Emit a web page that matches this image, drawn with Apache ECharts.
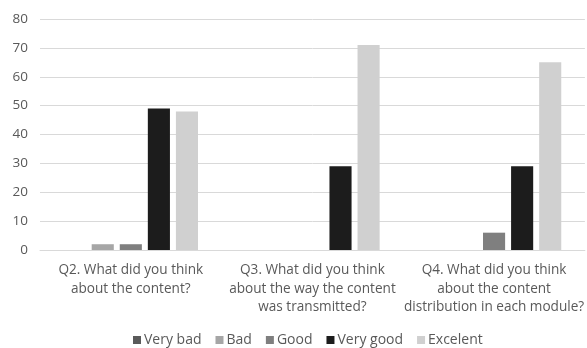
<!DOCTYPE html>
<html>
<head>
<meta charset="utf-8">
<script src="https://cdn.jsdelivr.net/npm/echarts@6/dist/echarts.min.js"></script>
<style>
html,body{margin:0;padding:0;background:#fff;}
#chart{width:587px;height:348px;}
</style>
</head>
<body>
<div id="chart"></div>
<script>
// Survey questions on the x axis
const categories = [
  'Q2. What did you think\nabout the content?',
  'Q3. What did you think\nabout the way the content\nwas transmitted?',
  'Q4. What did you think\nabout the content\ndistribution in each module?'
];
// Answer counts per rating
const veryBad  = [0, 0, 0];
const bad      = [2, 0, 0];
const good     = [2, 0, 6];
const veryGood = [49, 29, 29];
const excelent = [48, 71, 65];
const yTicks = [0, 10, 20, 30, 40, 50, 60, 70, 80];

const font = 'Open Sans';
const textColor = '#595959';

const seriesDefs = [
  { name: 'Very bad',  data: veryBad,  color: '#5a5a5a' },
  { name: 'Bad',       data: bad,      color: '#a6a6a6' },
  { name: 'Good',      data: good,     color: '#7f7f7f' },
  { name: 'Very good', data: veryGood, color: '#1c1c1c' },
  { name: 'Excelent',  data: excelent, color: '#d0d0d0' }
];

const chart = echarts.init(document.getElementById('chart'), null, { renderer: 'canvas' });
chart.setOption({
  animation: false,
  backgroundColor: '#ffffff',
  textStyle: { fontFamily: font },
  grid: { left: 40, right: 1, top: 19, bottom: 98, containLabel: false },
  legend: {
    bottom: 1,
    left: 133,
    padding: 0,
    itemWidth: 8,
    itemHeight: 8,
    itemGap: 14,
    icon: 'rect',
    textStyle: { color: textColor, fontSize: 14, fontFamily: font, padding: [0, 0, 0, -2] },
    data: seriesDefs.map(s => s.name)
  },
  xAxis: {
    type: 'category',
    data: categories,
    axisLine: { show: true, lineStyle: { color: '#d9d9d9', width: 1 } },
    axisTick: { show: false },
    axisLabel: { color: textColor, fontSize: 13.6, lineHeight: 18.5, margin: 11, interval: 0 }
  },
  yAxis: {
    type: 'value',
    min: yTicks[0],
    max: yTicks[yTicks.length - 1],
    interval: yTicks[1] - yTicks[0],
    axisLine: { show: false },
    axisTick: { show: false },
    axisLabel: { color: textColor, fontSize: 13.5, margin: 12 },
    splitLine: { lineStyle: { color: '#d9d9d9', width: 1 } }
  },
  series: seriesDefs.map(s => ({
    name: s.name,
    type: 'bar',
    data: s.data,
    barGap: '27%',
    barCategoryGap: '26%',
    itemStyle: { color: s.color }
  }))
});
</script>
</body>
</html>
